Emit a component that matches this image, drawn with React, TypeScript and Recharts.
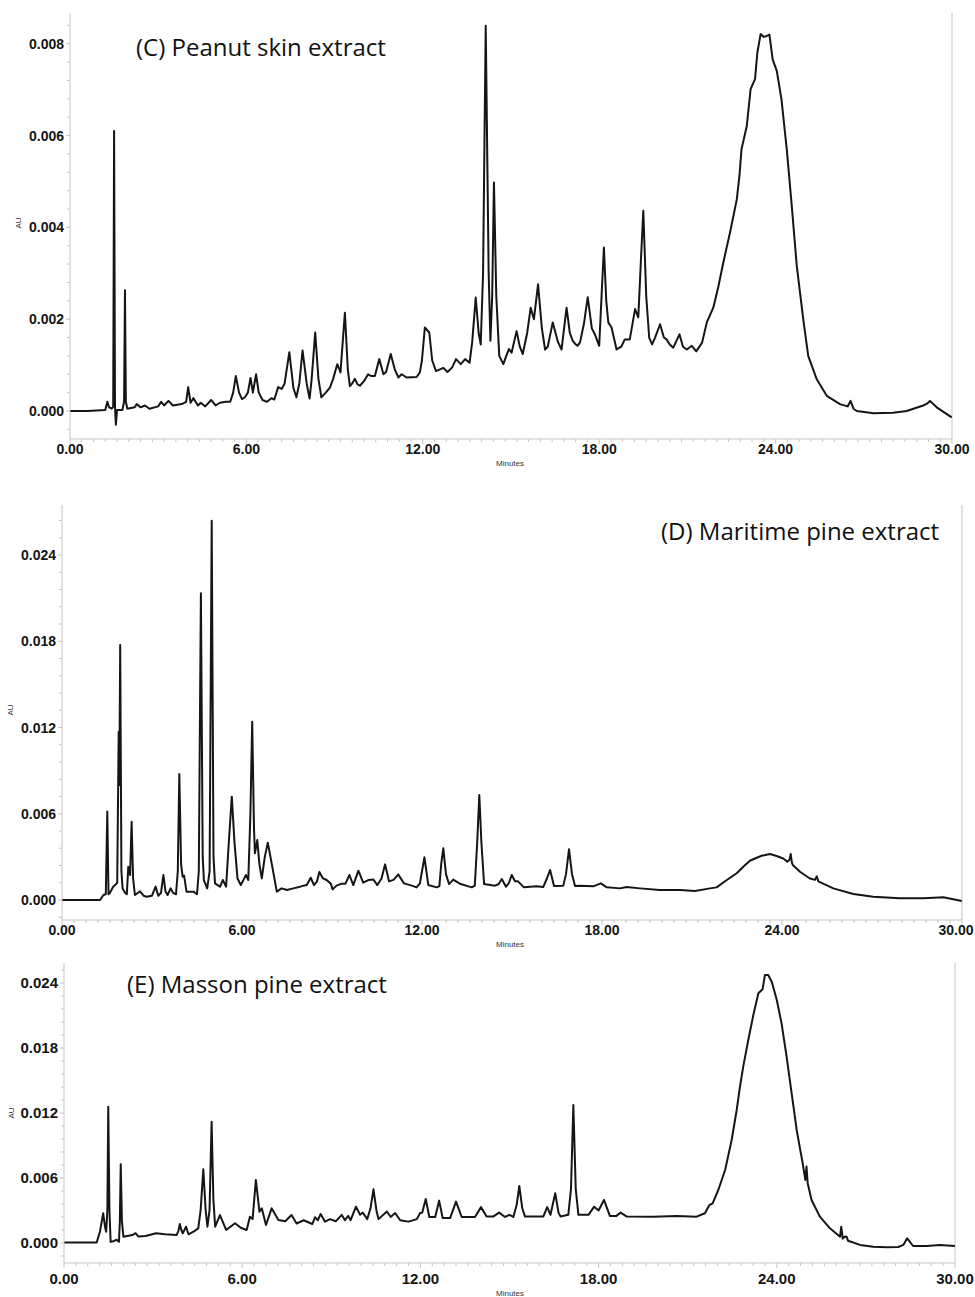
import {LineChart, Line, XAxis, YAxis, ReferenceLine} from 'recharts';

import type {ReactElement} from 'react';

// retention time (min), absorbance (AU)
const peanutTrace: [number, number][] = [
	[0, 0], [0.6, 0], [1.2, 0.00002], [1.27, 0.0002], [1.33, 0.00008], [1.42, 0.00005], [1.47, 0.0001],
	[1.5, 0.0061], [1.53, 0.0001], [1.56, -0.0003], [1.6, 0.00002], [1.78, 0.00002], [1.84, 0.0002],
	[1.87, 0.00263], [1.9, 0.0002], [1.95, 0.00005], [2.2, 0.00008], [2.27, 0.00015], [2.4, 0.00008],
	[2.55, 0.00012], [2.7, 0.00005], [3.0, 0.0001], [3.1, 0.0002], [3.2, 0.00012], [3.35, 0.00022],
	[3.5, 0.00012], [3.8, 0.00015], [3.95, 0.0002], [4.02, 0.00052], [4.1, 0.00018], [4.2, 0.00028],
	[4.35, 0.00012], [4.45, 0.00018], [4.6, 0.0001], [4.8, 0.00024], [4.95, 0.00012], [5.1, 0.00018],
	[5.3, 0.0002], [5.45, 0.0002], [5.55, 0.0004], [5.64, 0.00076], [5.75, 0.0004], [5.85, 0.00026],
	[5.95, 0.0003], [6.05, 0.0004], [6.14, 0.00072], [6.22, 0.0004], [6.33, 0.0008], [6.42, 0.0004],
	[6.55, 0.00024], [6.7, 0.0002], [6.85, 0.00028], [6.95, 0.00025], [7.08, 0.00052], [7.2, 0.00048],
	[7.3, 0.0006], [7.46, 0.00128], [7.6, 0.0005], [7.7, 0.0003], [7.8, 0.0006], [7.91, 0.00132],
	[8.05, 0.0006], [8.15, 0.00027], [8.22, 0.0007], [8.34, 0.00171], [8.45, 0.0007], [8.55, 0.0003],
	[8.7, 0.0004], [8.84, 0.00051], [8.95, 0.0007], [9.09, 0.00102], [9.2, 0.00084], [9.35, 0.00214],
	[9.45, 0.0009], [9.52, 0.00054], [9.6, 0.0006], [9.69, 0.0007], [9.78, 0.00058], [9.86, 0.00055],
	[10.0, 0.00065], [10.14, 0.0008], [10.25, 0.00076], [10.37, 0.00076], [10.52, 0.00113], [10.66, 0.0008],
	[10.75, 0.00085], [10.91, 0.00124], [11.05, 0.0009], [11.17, 0.00073], [11.28, 0.0008], [11.45, 0.00073],
	[11.79, 0.00074], [11.9, 0.00084], [11.97, 0.0011], [12.07, 0.00182], [12.22, 0.00171], [12.32, 0.0011],
	[12.45, 0.00087], [12.7, 0.00094], [12.84, 0.00085], [13.0, 0.00095], [13.13, 0.00113], [13.29, 0.00102],
	[13.44, 0.00113], [13.59, 0.00105], [13.68, 0.0015], [13.8, 0.00247], [13.9, 0.0017], [13.97, 0.00145],
	[14.05, 0.003], [14.14, 0.00839], [14.24, 0.003], [14.3, 0.00153], [14.36, 0.0025], [14.42, 0.00498],
	[14.5, 0.0025], [14.6, 0.0012], [14.74, 0.00102], [14.84, 0.0012], [14.93, 0.00135], [15.02, 0.00127],
	[15.19, 0.00174], [15.3, 0.0014], [15.4, 0.00124], [15.55, 0.0017], [15.67, 0.00225], [15.78, 0.002],
	[15.92, 0.00276], [16.05, 0.0018], [16.16, 0.00134], [16.25, 0.0014], [16.42, 0.00193], [16.6, 0.0015],
	[16.72, 0.00134], [16.89, 0.00225], [17.0, 0.0017], [17.1, 0.00153], [17.2, 0.00145], [17.27, 0.00142],
	[17.35, 0.0015], [17.48, 0.0019], [17.61, 0.00248], [17.75, 0.0018], [17.86, 0.00166], [18.0, 0.00142],
	[18.08, 0.0025], [18.16, 0.00356], [18.24, 0.0024], [18.31, 0.00193], [18.42, 0.00182], [18.59, 0.00134],
	[18.75, 0.0014], [18.87, 0.00156], [19.04, 0.00156], [19.22, 0.00222], [19.33, 0.00204], [19.42, 0.0033],
	[19.5, 0.00436], [19.6, 0.0025], [19.7, 0.0016], [19.8, 0.00145], [19.9, 0.0016], [20.07, 0.00189],
	[20.2, 0.0016], [20.29, 0.00156], [20.4, 0.00145], [20.52, 0.00138], [20.73, 0.00167], [20.85, 0.0014],
	[20.98, 0.00134], [21.15, 0.00142], [21.3, 0.0013], [21.5, 0.00149], [21.66, 0.00193], [21.88, 0.00225],
	[22.05, 0.0027], [22.22, 0.00323], [22.45, 0.00389], [22.68, 0.00461], [22.77, 0.00512], [22.84, 0.0057],
	[23.02, 0.00621], [23.15, 0.00701], [23.3, 0.00723], [23.38, 0.00781], [23.49, 0.00821], [23.6, 0.00815],
	[23.7, 0.00817], [23.79, 0.0082], [23.9, 0.00766], [24.04, 0.00741], [24.2, 0.00679], [24.38, 0.0057],
	[24.55, 0.00447], [24.72, 0.00316], [24.94, 0.002], [25.11, 0.0012], [25.4, 0.00069], [25.74, 0.00033],
	[26.19, 0.00015], [26.45, 0.0001], [26.55, 0.00022], [26.65, 0.00005], [26.76, 0], [27.33, -0.00005],
	[28.0, -0.00004], [28.46, 0], [29.02, 0.00012], [29.15, 0.00016], [29.25, 0.00022], [29.48, 0.00008],
	[29.99, -0.00014]
];

const maritimeTrace: [number, number][] = [
	[0, 0], [1.27, 0], [1.38, 0.00035], [1.46, 0.0004], [1.51, 0.00615], [1.55, 0.0004], [1.6, 0.0005],
	[1.7, 0.0009], [1.77, 0.00104], [1.84, 0.0012], [1.89, 0.01171], [1.91, 0.008], [1.94, 0.01774],
	[1.98, 0.002], [2.02, 0.00081], [2.1, 0.0005], [2.16, 0.0004], [2.21, 0.00232], [2.27, 0.00174],
	[2.32, 0.00545], [2.37, 0.0015], [2.43, 0.00035], [2.6, 0.0006], [2.72, 0.0003], [2.82, 0.00023],
	[3.0, 0.0003], [3.12, 0.00093], [3.21, 0.0003], [3.3, 0.0005], [3.38, 0.00174], [3.45, 0.0006],
	[3.52, 0.00035], [3.62, 0.00081], [3.7, 0.0005], [3.8, 0.0004], [3.86, 0.002], [3.91, 0.00877],
	[3.97, 0.0025], [4.02, 0.00162], [4.07, 0.0017], [4.15, 0.00058], [4.38, 0.00058], [4.5, 0.0004],
	[4.56, 0.002], [4.63, 0.02134], [4.69, 0.003], [4.73, 0.00139], [4.84, 0.00081], [4.92, 0.002],
	[4.99, 0.02639], [5.05, 0.003], [5.1, 0.00116], [5.27, 0.00093], [5.36, 0.00139], [5.47, 0.00093],
	[5.56, 0.004], [5.66, 0.00719], [5.75, 0.004], [5.85, 0.0015], [5.96, 0.00104], [6.05, 0.0014],
	[6.13, 0.00174], [6.21, 0.00139], [6.28, 0.006], [6.34, 0.0124], [6.4, 0.005], [6.43, 0.00325],
	[6.51, 0.00417], [6.58, 0.0025], [6.66, 0.0015], [6.76, 0.003], [6.86, 0.00399], [7.0, 0.00243],
	[7.16, 0.00058], [7.32, 0.00081], [7.5, 0.0007], [7.71, 0.00081], [7.9, 0.0009], [8.05, 0.001],
	[8.16, 0.00104], [8.29, 0.00155], [8.4, 0.00104], [8.5, 0.0013], [8.58, 0.00195], [8.7, 0.0015],
	[8.82, 0.00139], [8.96, 0.00114], [9.02, 0.00074], [9.15, 0.001], [9.32, 0.00114], [9.45, 0.00114],
	[9.58, 0.00174], [9.71, 0.00104], [9.88, 0.00204], [10.04, 0.00121], [10.21, 0.00139], [10.38, 0.00143],
	[10.51, 0.00104], [10.65, 0.0015], [10.77, 0.00248], [10.9, 0.0013], [11.05, 0.0014], [11.21, 0.00178],
	[11.4, 0.00116], [11.66, 0.001], [11.82, 0.00088], [11.93, 0.00116], [12.0, 0.002], [12.08, 0.00297],
	[12.16, 0.0018], [12.21, 0.00104], [12.49, 0.00088], [12.58, 0.00097], [12.64, 0.0025], [12.71, 0.0036],
	[12.8, 0.0018], [12.9, 0.00111], [13.04, 0.00142], [13.29, 0.00111], [13.66, 0.00088], [13.76, 0.001],
	[13.84, 0.004], [13.91, 0.0073], [13.98, 0.004], [14.07, 0.00111], [14.43, 0.001], [14.55, 0.0011],
	[14.66, 0.00146], [14.8, 0.00093], [14.9, 0.0012], [14.99, 0.00174], [15.1, 0.0013], [15.2, 0.0013],
	[15.4, 0.00088], [15.82, 0.00095], [16.04, 0.0009], [16.16, 0.00148], [16.27, 0.00209], [16.4, 0.00097],
	[16.71, 0.001], [16.8, 0.0018], [16.9, 0.00353], [17.0, 0.0018], [17.1, 0.00097], [17.27, 0.001],
	[17.71, 0.00095], [17.96, 0.00116], [18.16, 0.00088], [18.6, 0.00081], [18.82, 0.0009], [19.27, 0.00081],
	[19.93, 0.0007], [20.6, 0.0007], [21.1, 0.00063], [21.6, 0.00081], [21.82, 0.00088], [22.16, 0.00139],
	[22.49, 0.00186], [22.71, 0.00232], [22.93, 0.00273], [23.1, 0.00289], [23.32, 0.00308], [23.6, 0.0032],
	[23.82, 0.00306], [24.04, 0.00289], [24.18, 0.00267], [24.25, 0.0028], [24.29, 0.0032], [24.33, 0.0026],
	[24.36, 0.00244], [24.6, 0.00197], [24.93, 0.0015], [25.1, 0.0014], [25.16, 0.00165], [25.21, 0.0013],
	[25.71, 0.00081], [26.38, 0.00042], [27.04, 0.00023], [27.93, 0.00012], [28.71, 0.00012], [29.38, 0.00019],
	[29.99, -0.00007]
];

const massonTrace: [number, number][] = [
	[0, 0.00005], [1.1, 0.00005], [1.21, 0.00104], [1.32, 0.00274], [1.38, 0.0015], [1.42, 0.00104],
	[1.46, 0.003], [1.49, 0.01258], [1.53, 0.003], [1.57, 0.0001], [1.66, 0.00015], [1.77, 0.0003],
	[1.85, 0.0001], [1.88, 0.002], [1.91, 0.00726], [1.95, 0.002], [2.0, 0.00058], [2.3, 0.00073],
	[2.41, 0.0009], [2.5, 0.0006], [2.75, 0.00065], [3.1, 0.0009], [3.4, 0.0008], [3.79, 0.00073],
	[3.85, 0.0011], [3.9, 0.00175], [3.95, 0.0012], [4.0, 0.0009], [4.11, 0.0015], [4.19, 0.0008],
	[4.36, 0.00104], [4.52, 0.00135], [4.6, 0.003], [4.69, 0.0068], [4.77, 0.003], [4.83, 0.0015],
	[4.9, 0.003], [4.97, 0.0112], [5.03, 0.004], [5.09, 0.0015], [5.25, 0.00258], [5.46, 0.0012],
	[5.76, 0.00182], [5.95, 0.0014], [6.15, 0.0012], [6.26, 0.00243], [6.35, 0.0022], [6.46, 0.00582],
	[6.58, 0.00289], [6.66, 0.0032], [6.8, 0.00166], [6.99, 0.0032], [7.22, 0.00212], [7.45, 0.002],
	[7.66, 0.00258], [7.83, 0.0018], [8.07, 0.0021], [8.36, 0.00175], [8.45, 0.00237], [8.55, 0.0021],
	[8.64, 0.00268], [8.79, 0.00197], [8.96, 0.0022], [9.15, 0.002], [9.35, 0.0026], [9.46, 0.0021],
	[9.57, 0.0025], [9.65, 0.0021], [9.83, 0.00335], [9.97, 0.0026], [10.06, 0.0028], [10.21, 0.0022],
	[10.32, 0.0032], [10.42, 0.00495], [10.52, 0.003], [10.59, 0.0022], [10.87, 0.00291], [11.0, 0.0024],
	[11.15, 0.00276], [11.32, 0.0021], [11.6, 0.00197], [11.88, 0.0022], [11.99, 0.00276], [12.06, 0.0028],
	[12.18, 0.00406], [12.3, 0.0024], [12.5, 0.0024], [12.63, 0.00391], [12.75, 0.0023], [13.0, 0.0023],
	[13.2, 0.00382], [13.39, 0.0024], [13.84, 0.0024], [14.04, 0.00331], [14.23, 0.00245], [14.46, 0.00245],
	[14.65, 0.0028], [14.85, 0.0024], [15.0, 0.0026], [15.13, 0.0024], [15.24, 0.0035], [15.33, 0.00526],
	[15.43, 0.0032], [15.52, 0.00245], [16.14, 0.00245], [16.27, 0.00331], [16.38, 0.0026], [16.54, 0.00459],
	[16.65, 0.0028], [16.72, 0.00245], [16.98, 0.0026], [17.07, 0.005], [17.15, 0.01274], [17.23, 0.005],
	[17.32, 0.0026], [17.66, 0.0026], [17.85, 0.00335], [18.0, 0.003], [18.18, 0.00397], [18.38, 0.0025],
	[18.6, 0.0025], [18.74, 0.0028], [18.94, 0.00245], [19.84, 0.00243], [20.63, 0.0025], [21.3, 0.00243],
	[21.58, 0.00274], [21.73, 0.0035], [21.84, 0.00366], [22.03, 0.00489], [22.26, 0.00674], [22.48, 0.00951],
	[22.65, 0.01228], [22.76, 0.01443], [22.87, 0.01628], [23.04, 0.01874], [23.21, 0.02105], [23.38, 0.02305],
	[23.52, 0.02342], [23.6, 0.02474], [23.71, 0.02474], [23.83, 0.02412], [24.0, 0.02243], [24.16, 0.02028],
	[24.33, 0.0172], [24.5, 0.01382], [24.67, 0.01043], [24.78, 0.00874], [24.87, 0.00738], [24.96, 0.00582],
	[25.0, 0.00705], [25.04, 0.00551], [25.17, 0.00397], [25.45, 0.00243], [25.79, 0.00135], [26.13, 0.00058],
	[26.17, 0.0015], [26.22, 0.0004], [26.3, 0.0006], [26.35, 0.00058], [26.4, 0.0002], [26.8, -0.00018],
	[27.25, -0.00034], [27.7, -0.0004], [28.09, -0.00037], [28.26, -0.00018], [28.39, 0.00043], [28.59, -0.00028],
	[29.04, -0.00028], [29.49, -0.00018], [30.0, -0.00028]
];

const panelTitles = ['(C) Peanut skin extract', '(D) Maritime pine extract', '(E) Masson pine extract'];
const minuteLabels = [0, 6, 12, 18, 24, 30];

const AXIS = '#c4c4c4';
const INK = '#151515';
const TICK_FONT = '"Liberation Sans", Arial, sans-serif';

type TPanel = {
	trace: [number, number][];
	title: string;
	titleLeft: number;
	titleTop: number;
	top: number;
	height: number;
	margin: {top: number; right: number; left: number; bottom: number};
	yWidth: number;
	xHeight: number;
	yDomain: [number, number];
	yStep: number;
	yMajor: number;
	fontSize: number;
	xLabelDy: number;
	lastLabelShift: number;
	auTop: number;
	auLeft: number;
	minutesTop: number;
};

function range(from: number, to: number, step: number): number[] {
	const out: number[] = [];
	const n = Math.round((to - from) / step);
	for (let i = 0; i <= n; i++) {
		out.push(Math.round((from + i * step) * 1e6) / 1e6);
	}
	return out;
}

function isMajor(v: number, major: number): boolean {
	return Math.abs(v / major - Math.round(v / major)) < 1e-6;
}

const xTicks = range(0, 30, 0.4);

const panels: TPanel[] = [
	{
		trace: peanutTrace, title: panelTitles[0], titleLeft: 136, titleTop: 33,
		top: 0, height: 475, margin: {top: 13, right: 23, left: 0, bottom: 0}, yWidth: 70, xHeight: 36,
		yDomain: [-0.00061, 0.00867], yStep: 0.0004, yMajor: 0.002, fontSize: 14, xLabelDy: 15, lastLabelShift: 0,
		auTop: 223, auLeft: 18, minutesTop: 463
	},
	{
		trace: maritimeTrace, title: panelTitles[1], titleLeft: 661, titleTop: 517,
		top: 490, height: 460, margin: {top: 15, right: 13, left: 0, bottom: 0}, yWidth: 62, xHeight: 30,
		yDomain: [-0.00139, 0.02748], yStep: 0.0012, yMajor: 0.006, fontSize: 14, xLabelDy: 15, lastLabelShift: -6,
		auTop: 710, auLeft: 10, minutesTop: 944
	},
	{
		trace: massonTrace, title: panelTitles[2], titleLeft: 127, titleTop: 970,
		top: 950, height: 347, margin: {top: 13, right: 20, left: 0, bottom: 0}, yWidth: 64, xHeight: 34,
		yDomain: [-0.00185, 0.02585], yStep: 0.0012, yMajor: 0.006, fontSize: 15, xLabelDy: 21, lastLabelShift: 0,
		auTop: 1113, auLeft: 11, minutesTop: 1293
	}
];

function Chromatogram({panel}: {panel: TPanel}): ReactElement {
	const data = panel.trace.map(([t, v]) => ({t, v}));
	const firstTick = Math.ceil(panel.yDomain[0] / panel.yStep) * panel.yStep;
	const lastTick = Math.floor(panel.yDomain[1] / panel.yStep) * panel.yStep;
	const yTicks = range(firstTick, lastTick, panel.yStep);

	const renderXTick = (props: any) => {
		const {x, y, payload} = props;
		const v = payload.value as number;
		const major = minuteLabels.some((m) => Math.abs(m - v) < 1e-6);
		const shift = Math.abs(v - 30) < 1e-6 ? panel.lastLabelShift : 0;
		return (
			<g>
				<line x1={x} y1={y} x2={x} y2={y + (major ? 5 : 3)} stroke={AXIS} />
				{major && (
					<text x={x + shift} y={y + panel.xLabelDy} textAnchor={'middle'} fontFamily={TICK_FONT}
						fontWeight={'bold'} fontSize={panel.fontSize} fill={INK}>
						{v.toFixed(2)}
					</text>
				)}
			</g>
		);
	};

	const renderYTick = (props: any) => {
		const {x, y, payload} = props;
		const v = payload.value as number;
		const major = isMajor(v, panel.yMajor);
		return (
			<g>
				<line x1={x - (major ? 4 : 3)} y1={y} x2={x} y2={y} stroke={AXIS} />
				{major && (
					<text x={x - 6} y={y} dy={'0.36em'} textAnchor={'end'} fontFamily={TICK_FONT}
						fontWeight={'bold'} fontSize={panel.fontSize} fill={INK}>
						{Math.abs(v).toFixed(3)}
					</text>
				)}
			</g>
		);
	};

	return (
		<div style={{position: 'absolute', left: 0, top: panel.top, width: 975, height: panel.height}}>
			<LineChart width={975} height={panel.height} data={data} margin={panel.margin}>
				<XAxis
					dataKey={'t'}
					type={'number'}
					domain={[0, 30]}
					ticks={xTicks}
					interval={0}
					height={panel.xHeight}
					tickSize={0}
					tickMargin={0}
					tickLine={false}
					axisLine={{stroke: AXIS}}
					tick={renderXTick}
				/>
				<YAxis
					type={'number'}
					domain={panel.yDomain}
					ticks={yTicks}
					interval={0}
					width={panel.yWidth}
					tickSize={0}
					tickMargin={0}
					tickLine={false}
					axisLine={{stroke: AXIS}}
					tick={renderYTick}
					allowDataOverflow
				/>
				<ReferenceLine x={30} stroke={AXIS} />
				<Line
					type={'linear'}
					dataKey={'v'}
					stroke={INK}
					strokeWidth={2}
					strokeLinejoin={'round'}
					dot={false}
					isAnimationActive={false}
				/>
			</LineChart>
			<div style={{
				position: 'absolute', left: panel.titleLeft, top: panel.titleTop - panel.top,
				fontFamily: '"Open Sans", "Noto Sans", sans-serif', fontSize: 24, lineHeight: '28px',
				color: '#111', whiteSpace: 'nowrap'
			}}>
				{panel.title}
			</div>
			<div style={{
				position: 'absolute', left: panel.auLeft, top: panel.auTop - panel.top,
				transform: 'translate(-50%, -50%) rotate(-90deg)', fontFamily: TICK_FONT,
				fontSize: 8, color: '#333'
			}}>
				{'AU'}
			</div>
			<div style={{
				position: 'absolute', left: 510, top: panel.minutesTop - panel.top,
				transform: 'translate(-50%, -50%)', fontFamily: TICK_FONT, fontSize: 8, color: '#333'
			}}>
				{'Minutes'}
			</div>
		</div>
	);
}

export default function App(): ReactElement {
	return (
		<div style={{position: 'absolute', left: 0, top: 0, width: 975, height: 1297, background: '#fff', overflow: 'hidden'}}>
			{panels.map((p) => (
				<Chromatogram key={p.title} panel={p} />
			))}
		</div>
	);
}
